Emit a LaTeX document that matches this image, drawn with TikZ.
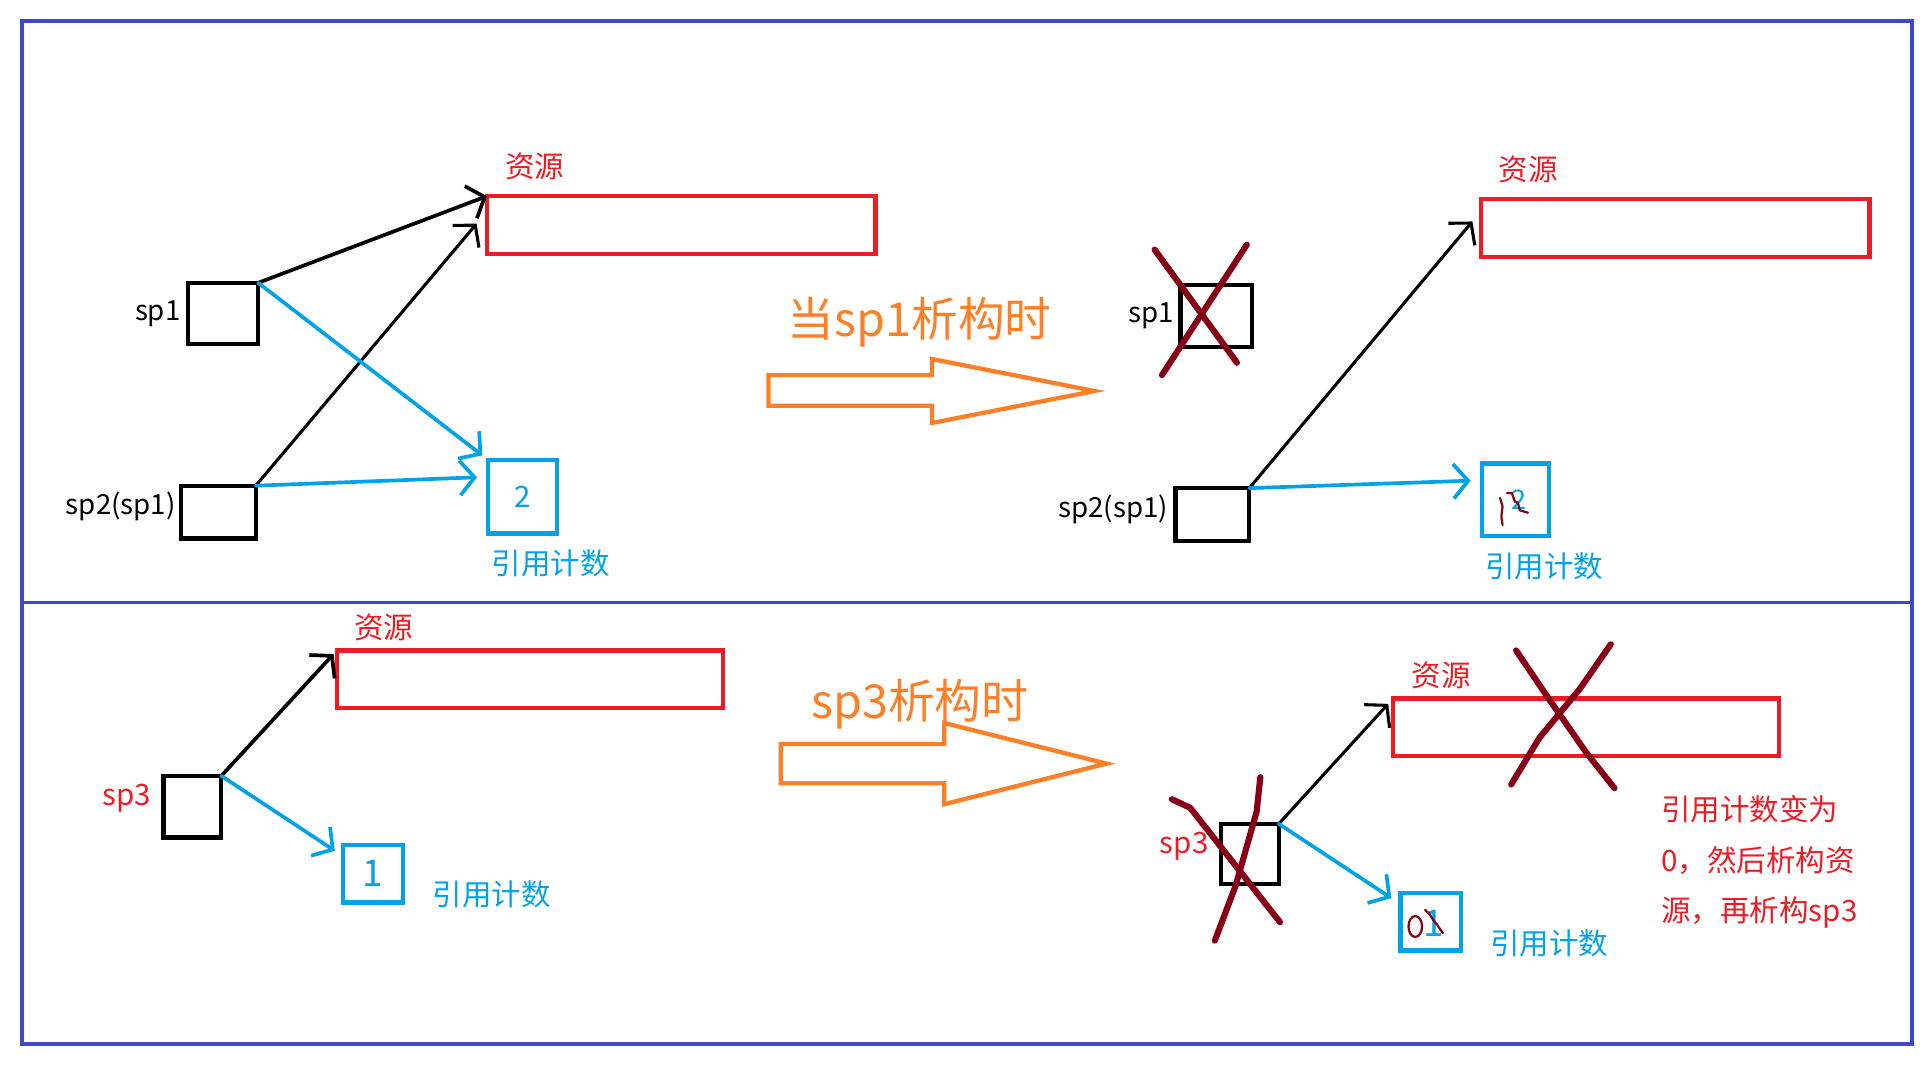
\documentclass[tikz,border=0pt]{standalone}
\usepackage{fontspec}
\newfontfamily\cjk{Noto Sans CJK SC}
\usetikzlibrary{arrows.meta,positioning}
\definecolor{frameblue}{HTML}{3F48CC}
\definecolor{resred}{HTML}{ED1C24}
\definecolor{cntblue}{HTML}{00A2E8}
\definecolor{hintorange}{HTML}{FF7F27}
\definecolor{crossred}{HTML}{880015}

\begin{document}
\begin{tikzpicture}[x=1pt, y=-1pt,
  lbl/.style={font=\cjk\fontsize{24}{28}\selectfont, inner sep=1pt},
  splbl/.style={font=\cjk\fontsize{22.5}{26}\selectfont, inner sep=1pt},
  title/.style={font=\cjk\fontsize{38}{44}\selectfont, text=hintorange, inner sep=0pt},
  spbox/.style={draw=black, line width=3.5pt, inner sep=0pt, outer sep=0pt},
  resbox/.style={draw=resred, line width=3.5pt, inner sep=0pt, outer sep=0pt, minimum width=316pt, minimum height=47pt},
  cntbox/.style={draw=cntblue, line width=3.5pt, inner sep=0pt, outer sep=0pt, text=cntblue},
  ptr/.style={draw=black, line width=3pt, line cap=round, -{Straight Barb[length=12pt,width=28pt]}},
  cnt/.style={draw=cntblue, line width=3pt, line cap=round, -{Straight Barb[length=12pt,width=28pt]}},
  hint/.style={draw=hintorange, line width=3.5pt, line join=miter},
  cross/.style={draw=crossred, line width=5pt, line cap=round, line join=round},
  scrib/.style={draw=crossred, line width=1.8pt, line cap=round, line join=round}]
\useasboundingbox (0,0) rectangle (1568,882);
% frames
\draw[frameblue, line width=3pt] (18,17) rectangle (1555,490);
\draw[frameblue, line width=3pt] (18,490) rectangle (1555,849);

% ---- top left: sp1 and sp2(sp1) share the resource
\node[resbox] (res1) at (554,183) {};
\node[lbl, text=resred] at (435,135) {资源};
\node[spbox, minimum width=57pt, minimum height=50pt] (sp1a) at (181.5,255) {};
\node[spbox, minimum width=61pt, minimum height=43pt] (sp2a) at (177.5,416.5) {};
\node[splbl, left=5pt of sp1a] {sp1};
\node[splbl, left=3pt of sp2a, yshift=5pt] {sp2(sp1)};
\node[cntbox, minimum width=56pt, minimum height=60pt, font=\cjk\fontsize{24}{28}\selectfont] (cnt1) at (425,404) {2};
\node[lbl, text=cntblue] at (448,458) {引用计数};
\draw[ptr] (sp1a.north east) -- (res1.north west);
\draw[ptr, line width=2.5pt, shorten >=13pt] (sp2a.north east) -- (res1.176);
\draw[cnt, shorten >=6pt] (sp1a.north east) -- (cnt1.north west);
\draw[cnt, shorten >=9pt] (sp2a.north east) -- (cnt1.150);

% arrow: sp1 destroyed
\node[title] (t1) at (748,262) {当sp1析构时};
\draw[hint] (625,305) -- (758,305) -- (758,292) -- (890,318) -- (758,344) -- (758,330) -- (625,330) -- cycle;

% ---- top right: after sp1
\node[resbox] (res2) at (1362.5,185.5) {};
\node[lbl, text=resred] at (1243,138) {资源};
\node[spbox, minimum width=58pt, minimum height=50pt] (sp1b) at (989,257) {};
\node[spbox, minimum width=60pt, minimum height=43pt] (sp2b) at (986,418.5) {};
\node[splbl, left=4pt of sp1b] {sp1};
\node[splbl, left=5pt of sp2b, yshift=4pt] {sp2(sp1)};
\node[cntbox, minimum width=55pt, minimum height=59pt, font=\cjk\fontsize{22}{26}\selectfont] (cnt2) at (1232.5,406.5) {\hspace*{6pt}2};
\node[lbl, text=cntblue] at (1256,461) {引用计数};
\draw[ptr, line width=2.5pt, shorten >=11pt] (sp2b.north east) -- (res2.175);
\draw[cnt, shorten >=9pt] (sp2b.north east) -- (cnt2.150);
\draw[cross] (939,203) -- (1006,295);
\draw[cross] (1014,199) -- (945,305);
\draw[scrib] (1220,405) -- (1222,412) -- (1221,420) -- (1222,427);
\draw[scrib] (1225.6,401) -- (1229.6,401) -- (1232,408) -- (1234.5,409) -- (1236,415) -- (1242.7,417);

% ---- bottom left: sp3 alone
\node[resbox, minimum width=314pt] (res3) at (431,552.5) {};
\node[lbl, text=resred] at (312,510) {资源};
\node[spbox, minimum width=47pt, minimum height=50pt] (sp3a) at (156.5,656) {};
\node[lbl, text=resred, left=9pt of sp3a, yshift=7pt] {sp3};
\node[cntbox, minimum width=49pt, minimum height=47pt, font=\cjk\fontsize{30}{34}\selectfont] (cnt3) at (303.5,710.5) {1};
\node[lbl, text=cntblue] at (400,727) {引用计数};
\draw[ptr, shorten >=4pt] (sp3a.north east) -- (res3.north west);
\draw[cnt, shorten >=8pt] (sp3a.north east) -- (cnt3.150);

% arrow: sp3 destroyed
\node[title] (t2) at (748,573) {sp3析构时};
\draw[hint] (635,605) -- (768,605) -- (768,588) -- (900,621) -- (768,654) -- (768,637) -- (635,637) -- cycle;

% ---- bottom right: after sp3
\node[resbox, minimum width=314pt] (res4) at (1290,591.5) {};
\node[lbl, text=resred] at (1172,549) {资源};
\node[spbox, minimum width=47pt, minimum height=49pt] (sp3b) at (1016.5,694.5) {};
\node[lbl, text=resred, left=9pt of sp3b, yshift=6pt] {sp3};
\node[cntbox, minimum width=49pt, minimum height=47pt] (cnt4) at (1163.5,749.5) {};
\node[lbl, text=cntblue, font=\cjk\fontsize{30}{34}\selectfont, inner sep=0pt] (one) at (1166,751) {1};
\node[lbl, text=cntblue] at (1260,767) {引用计数};
\draw[ptr, line width=2.5pt, shorten >=6pt] (sp3b.north east) -- (res4.north west);
\draw[cnt, shorten >=9pt] (sp3b.north east) -- (cnt4.150);
\draw[scrib] (1151,753.5) ellipse [x radius=5.5, y radius=8.5];
\draw[scrib] (1159,740) -- (1163,744) -- (1165.5,748) -- (1168.7,752) -- (1173.5,759);
\draw[cross] (1233,529) -- (1258,566) -- (1290,612) -- (1313,641);
\draw[cross] (1310,524) -- (1285,560) -- (1252,600) -- (1229,638);
\draw[cross] (953,650) -- (968,657) -- (1041,750);
\draw[cross] (1025,632) -- (1022,660) -- (1005,720) -- (988,765);
\node[lbl, text=resred, anchor=west, align=left, font=\cjk\fontsize{24}{41}\selectfont] (note) at (1350,701)
  {引用计数变为\\0，然后析构资\\源，再析构sp3};
\end{tikzpicture}
\end{document}
